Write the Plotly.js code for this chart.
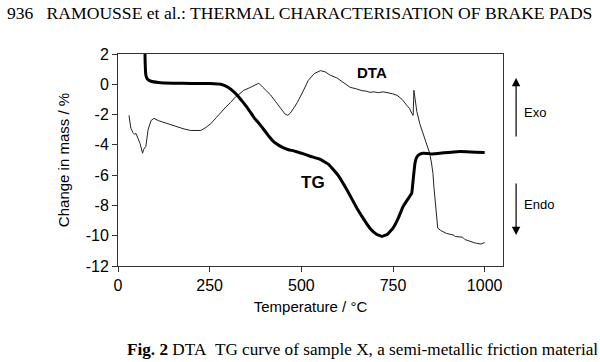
<!DOCTYPE html>
<html><head><meta charset="utf-8">
<script src="https://cdn.plot.ly/plotly-3.0.1.min.js"></script>
<style>html,body{margin:0;padding:0;background:#fff}#c{width:600px;height:362px}</style>
</head><body><div id="c"></div>
<script>
// TG curve (change in mass / %)
const tgT = [73, 74, 76, 80, 90, 110, 150, 200, 250, 280, 300, 316, 330, 343, 357, 371, 385, 398, 412, 425, 440, 452, 465, 479, 500, 524, 550, 575, 600, 625, 652, 670, 687, 705, 720, 735, 750, 765, 777, 790, 801, 805, 810, 814, 818, 825, 832, 845, 855, 865, 878, 900, 924, 950, 975, 1000];
const tgV = [3.0, 1.5, 0.6, 0.35, 0.2, 0.12, 0.07, 0.06, 0.05, 0.0, -0.2, -0.5, -0.85, -1.25, -1.7, -2.2, -2.6, -3.0, -3.45, -3.8, -4.05, -4.2, -4.32, -4.4, -4.55, -4.75, -4.95, -5.3, -6.0, -7.0, -8.2, -8.9, -9.5, -9.9, -10.05, -9.9, -9.5, -8.8, -8.1, -7.6, -7.2, -6.3, -5.2, -4.85, -4.7, -4.6, -4.55, -4.57, -4.6, -4.58, -4.55, -4.5, -4.45, -4.45, -4.48, -4.5];
// DTA curve
const dtaT = [30, 35, 41, 45, 49, 55, 60, 67, 70, 76, 82, 90, 98, 110, 135, 160, 180, 198, 212, 226, 240, 253, 268, 280, 294, 307, 320, 333, 343, 357, 371, 384, 395, 405, 416, 430, 443, 455, 463, 470, 480, 489, 505, 519, 535, 552, 565, 579, 597, 615, 633, 650, 665, 676, 687, 698, 710, 723, 735, 748, 761, 775, 788, 795, 801, 805, 807, 810, 815, 823, 830, 836, 843, 850, 855, 859, 862, 866, 869, 872, 880, 888, 896, 905, 914, 920, 932, 940, 946, 951, 960, 970, 978, 990, 1000];
const dtaV = [-2.05, -2.9, -3.2, -3.3, -3.25, -3.6, -3.9, -4.55, -4.3, -4.1, -3.0, -2.4, -2.25, -2.4, -2.6, -2.8, -2.95, -3.05, -3.05, -3.05, -2.85, -2.6, -2.2, -1.85, -1.5, -1.2, -0.85, -0.6, -0.4, -0.25, -0.07, 0.07, -0.2, -0.45, -0.7, -1.15, -1.6, -1.95, -2.05, -1.9, -1.55, -1.2, -0.45, 0.26, 0.7, 0.9, 0.82, 0.6, 0.42, 0.1, -0.2, -0.3, -0.42, -0.45, -0.53, -0.5, -0.55, -0.5, -0.55, -0.62, -0.73, -1.0, -1.4, -1.6, -1.9, -2.05, -0.4, -1.1, -1.8, -2.6, -3.1, -3.5, -3.95, -4.55, -5.2, -5.9, -6.9, -8.1, -8.9, -9.5, -9.65, -9.75, -9.85, -9.9, -9.95, -10.05, -10.1, -10.1, -10.25, -10.3, -10.35, -10.45, -10.5, -10.55, -10.45];
const xTickVals = [0, 250, 500, 750, 1000];
const xTickText = ["0", "250", "500", "750", "1000"];
const yTickVals = [2, 0, -2, -4, -6, -8, -10, -12];
const yTickText = ["2", "0", "-2", "-4", "-6", "-8", "-10", "-12"];

const sans = "Liberation Sans, Arial, sans-serif";
const serif = "Liberation Serif, Times New Roman, serif";

const traces = [
  {x: dtaT, y: dtaV, mode: "lines", line: {color: "#222", width: 1}, hoverinfo: "skip"},
  {x: tgT, y: tgV, mode: "lines", line: {color: "#000", width: 3, shape: "spline", smoothing: 0.3}, hoverinfo: "skip"}
];

const layout = {
  width: 600, height: 362,
  margin: {l: 118, r: 97, t: 54, b: 96},
  paper_bgcolor: "#fff", plot_bgcolor: "#fff",
  showlegend: false,
  font: {family: sans, color: "#000", size: 16},
  xaxis: {
    range: [0, 1050], tickvals: xTickVals, ticktext: xTickText,
    showgrid: false, zeroline: false, showline: true, mirror: true,
    linecolor: "#333", linewidth: 1, ticks: "outside", ticklen: 5, tickcolor: "#333",
    tickfont: {family: sans, size: 16},
    title: {text: "Temperature / °C", font: {family: sans, size: 15}, standoff: 8}
  },
  yaxis: {
    range: [-12, 2], tickvals: yTickVals, ticktext: yTickText,
    showgrid: false, zeroline: false, showline: true, mirror: true,
    linecolor: "#333", linewidth: 1, ticks: "outside", ticklen: 5, tickcolor: "#333",
    tickfont: {family: sans, size: 16},
    title: {text: "Change in mass / %", font: {family: sans, size: 15}, standoff: 12}
  },
  annotations: [
    {xref: "x", yref: "y", x: 693, y: 0.8, text: "<b>DTA</b>", showarrow: false, font: {family: sans, size: 15}},
    {xref: "x", yref: "y", x: 533, y: -6.5, text: "<b>TG</b>", showarrow: false, font: {family: sans, size: 17}},
    {xref: "paper", yref: "paper", x: 1.034, y: 0.887, ax: 0, ay: 60, text: "", showarrow: true, arrowhead: 2, arrowsize: 1.4, arrowwidth: 1.2, arrowcolor: "#000"},
    {xref: "paper", yref: "paper", x: 1.034, y: 0.146, ax: 0, ay: -53, text: "", showarrow: true, arrowhead: 2, arrowsize: 1.4, arrowwidth: 1.2, arrowcolor: "#000"},
    {xref: "paper", yref: "paper", x: 1.049, y: 0.722, text: "Exo", showarrow: false, xanchor: "left", yanchor: "middle", font: {family: sans, size: 13}},
    {xref: "paper", yref: "paper", x: 1.049, y: 0.288, text: "Endo", showarrow: false, xanchor: "left", yanchor: "middle", font: {family: sans, size: 13}},
    {xref: "paper", yref: "paper", x: -0.2935, y: 1.193, xanchor: "left", yanchor: "middle", showarrow: false,
     text: "936&nbsp;&nbsp;&nbsp;RAMOUSSE et al.: THERMAL CHARACTERISATION OF BRAKE PADS", font: {family: serif, size: 17.6}},
    {xref: "paper", yref: "paper", x: 1.252, y: -0.392, xanchor: "right", yanchor: "middle", showarrow: false,
     text: "<b>Fig. 2</b> DTA&nbsp;&nbsp;TG curve of sample X, a semi-metallic friction material", font: {family: serif, size: 17.2}}
  ]
};
Plotly.newPlot("c", traces, layout, {staticPlot: true, displayModeBar: false});
</script>
</body></html>
